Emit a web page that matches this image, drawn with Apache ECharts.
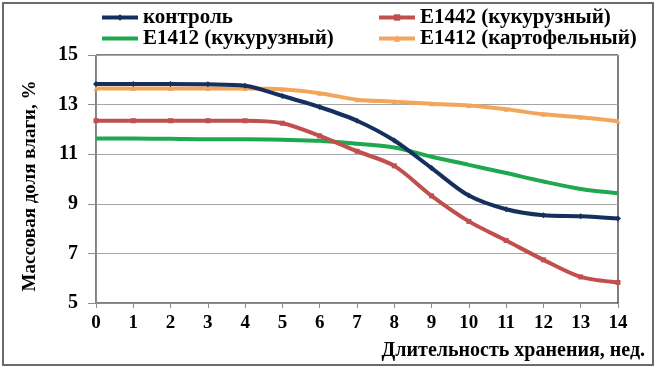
<!DOCTYPE html>
<html>
<head>
<meta charset="utf-8">
<script src="https://cdn.jsdelivr.net/npm/echarts@6/dist/echarts.min.js"></script>
<style>
html, body { margin: 0; padding: 0; background: #fff; }
#chart { width: 656px; height: 368px; }
</style>
</head>
<body>
<div id="chart"></div>
<script>
// недели хранения
var weeks = ['0','1','2','3','4','5','6','7','8','9','10','11','12','13','14'];

// массовая доля влаги, %
var control      = [13.83, 13.83, 13.83, 13.82, 13.76, 13.35, 12.9, 12.35, 11.55, 10.44, 9.33, 8.78, 8.54, 8.5, 8.41];
var e1442Corn    = [12.35, 12.35, 12.35, 12.35, 12.35, 12.25, 11.74, 11.12, 10.53, 9.32, 8.29, 7.52, 6.74, 6.05, 5.83];
var e1412Corn    = [11.63, 11.63, 11.62, 11.6, 11.6, 11.58, 11.54, 11.42, 11.27, 10.9, 10.57, 10.24, 9.9, 9.6, 9.43];
var e1412Potato  = [13.65, 13.65, 13.65, 13.65, 13.65, 13.62, 13.46, 13.2, 13.12, 13.03, 12.96, 12.81, 12.61, 12.49, 12.33];

var yTicks = { min: 5, max: 15, step: 2 };

var serif = '"Liberation Serif", "Times New Roman", serif';

var chart = echarts.init(document.getElementById('chart'));

function mkLine(name, data, color, symbol, size) {
	return {
		name: name,
		type: 'line',
		data: data,
		smooth: 0.3,
		symbol: symbol,
		symbolSize: size,
		lineStyle: { color: color, width: 4 },
		itemStyle: { color: color },
		emphasis: { disabled: true }
	};
}

var legendText = { fontFamily: serif, fontWeight: 'bold', fontSize: 21, color: '#000', lineHeight: 21 };

chart.setOption({
	animation: false,
	graphic: [{
		type: 'rect',
		shape: { x: 3, y: 3, width: 650, height: 362 },
		style: { fill: 'none', stroke: '#6b6b6b', lineWidth: 2 },
		silent: true
	}],
	legend: [{
		orient: 'vertical',
		left: 100,
		top: 7,
		padding: 0,
		itemGap: 0,
		itemWidth: 36,
		itemHeight: 8,
		lineStyle: { width: 4 },
		data: ['контроль', { name: 'E1412 (кукурузный)', itemStyle: { opacity: 0 } }],
		textStyle: legendText
	}, {
		orient: 'vertical',
		left: 377,
		top: 7,
		padding: 0,
		itemGap: 0,
		itemWidth: 36,
		itemHeight: 8,
		lineStyle: { width: 4 },
		data: ['E1442 (кукурузный)', 'E1412 (картофельный)'],
		textStyle: legendText
	}],
	grid: {
		left: 96,
		right: 38,
		top: 55,
		bottom: 65,
		show: true,
		borderColor: '#000',
		borderWidth: 1
	},
	xAxis: {
		type: 'category',
		data: weeks,
		boundaryGap: false,
		name: 'Длительность хранения, нед.',
		nameLocation: 'end',
		nameGap: 0,
		nameTextStyle: {
			fontFamily: serif, fontWeight: 'bold', fontSize: 20, color: '#000',
			align: 'right', verticalAlign: 'top', padding: [38, -27, 0, 0]
		},
		axisLine: { lineStyle: { color: '#8c8c8c', width: 1 } },
		axisTick: { length: 5, lineStyle: { color: '#8c8c8c' } },
		axisLabel: { fontFamily: serif, fontWeight: 'bold', fontSize: 19, color: '#000', margin: 11 },
		splitLine: { show: false }
	},
	yAxis: {
		type: 'value',
		min: yTicks.min,
		max: yTicks.max,
		interval: yTicks.step,
		name: 'Массовая доля влаги, %',
		nameLocation: 'middle',
		nameGap: 56,
		nameTextStyle: { fontFamily: serif, fontWeight: 'bold', fontSize: 19, color: '#000', padding: [0, 14, 0, 0] },
		axisLine: { show: true, lineStyle: { color: '#8c8c8c', width: 1 } },
		axisTick: { show: true, length: 8, lineStyle: { color: '#8c8c8c' } },
		axisLabel: { fontFamily: serif, fontWeight: 'bold', fontSize: 20, color: '#000', margin: 18 },
		splitLine: { lineStyle: { color: '#a6a6a6', width: 1 } }
	},
	series: [
		mkLine('E1412 (кукурузный)', e1412Corn, '#1fa84f', 'none', 0),
		mkLine('E1412 (картофельный)', e1412Potato, '#f3a55c', 'triangle', 5),
		mkLine('E1442 (кукурузный)', e1442Corn, '#c0504d', 'rect', 5),
		mkLine('контроль', control, '#16305e', 'diamond', 6)
	]
});
</script>
</body>
</html>
